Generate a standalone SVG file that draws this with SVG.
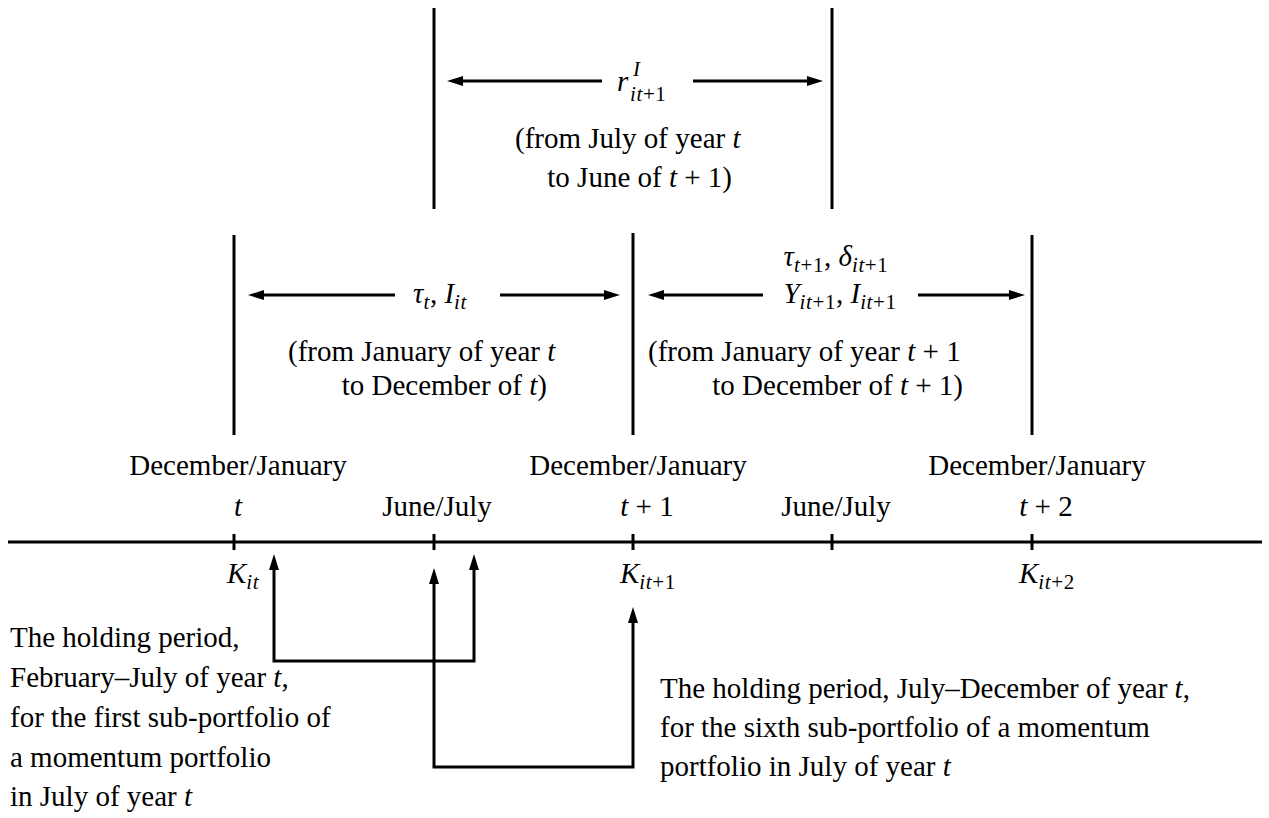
<svg xmlns="http://www.w3.org/2000/svg" width="1269" height="818" viewBox="0 0 1269 818">
<style>
text{font-family:"Liberation Serif","Times New Roman",serif;font-size:29px;fill:#000}
.i{font-style:italic}
.s{font-size:21px;letter-spacing:0.6px}
.ln{stroke:#000;stroke-width:3;fill:none}
.ar{stroke:#000;stroke-width:3;fill:none;marker-end:url(#ah)}
.br{stroke:#000;stroke-width:3;fill:none;stroke-linejoin:miter;marker-start:url(#ah);marker-end:url(#ah)}
</style>
<defs>
<marker id="ah" viewBox="0 0 16 10" markerWidth="16" markerHeight="10" refX="6" refY="5" orient="auto-start-reverse" markerUnits="userSpaceOnUse">
<path d="M0,0 L16,5 L0,10 Z" fill="#000"/>
</marker>
</defs>
<rect width="1269" height="818" fill="#fff"/>

<g id="axis">
<line class="ln" x1="8" y1="542" x2="1262" y2="542"/>
<line class="ln" x1="234" y1="534" x2="234" y2="550"/>
<line class="ln" x1="434" y1="534" x2="434" y2="550"/>
<line class="ln" x1="633" y1="534" x2="633" y2="550"/>
<line class="ln" x1="832" y1="534" x2="832" y2="550"/>
<line class="ln" x1="1032" y1="534" x2="1032" y2="550"/>
</g>

<g id="bounds">
<line class="ln" x1="434" y1="8" x2="434" y2="209"/>
<line class="ln" x1="832" y1="8" x2="832" y2="209"/>
<line class="ln" x1="234" y1="235" x2="234" y2="435"/>
<line class="ln" x1="633" y1="233" x2="633" y2="435"/>
<line class="ln" x1="1032" y1="235" x2="1032" y2="435"/>
</g>

<g id="top-period">
<text x="617" y="91"><tspan class="i">r</tspan><tspan class="i s" x="633" y="76">I</tspan><tspan class="s" x="630" y="101"><tspan class="i">it</tspan>+1</tspan></text>
<text x="515" y="148">(from July of year <tspan class="i">t</tspan></text>
<text x="732" y="187" text-anchor="end">to June of <tspan class="i">t</tspan> + 1)</text>
</g>

<g id="period-t">
<text x="440" y="303" text-anchor="middle"><tspan class="i">τ</tspan><tspan class="i s" dy="6">t</tspan><tspan dy="-6">, </tspan><tspan class="i">I</tspan><tspan class="i s" dy="6">it</tspan></text>
<text x="288" y="361">(from January of year <tspan class="i">t</tspan></text>
<text x="547" y="395" text-anchor="end">to December of <tspan class="i">t</tspan>)</text>
</g>

<g id="period-t1">
<text x="836" y="266" text-anchor="middle"><tspan class="i">τ</tspan><tspan class="s" dy="6"><tspan class="i">t</tspan>+1</tspan><tspan dy="-6">, </tspan><tspan class="i">δ</tspan><tspan class="s" dy="6"><tspan class="i">it</tspan>+1</tspan></text>
<text x="840" y="303" text-anchor="middle"><tspan class="i">Y</tspan><tspan class="s" dy="6"><tspan class="i">it</tspan>+1</tspan><tspan dy="-6">, </tspan><tspan class="i">I</tspan><tspan class="s" dy="6"><tspan class="i">it</tspan>+1</tspan></text>
<text x="648" y="361">(from January of year <tspan class="i">t</tspan> + 1</text>
<text x="963" y="395" text-anchor="end">to December of <tspan class="i">t</tspan> + 1)</text>
</g>

<g id="tick-labels">
<text x="238" y="475" text-anchor="middle">December/January</text>
<text x="238" y="516" text-anchor="middle" class="i">t</text>
<text x="437" y="516" text-anchor="middle">June/July</text>
<text x="638" y="475" text-anchor="middle">December/January</text>
<text x="647" y="516" text-anchor="middle"><tspan class="i">t</tspan> + 1</text>
<text x="836" y="516" text-anchor="middle">June/July</text>
<text x="1037" y="475" text-anchor="middle">December/January</text>
<text x="1046" y="516" text-anchor="middle"><tspan class="i">t</tspan> + 2</text>
</g>

<g id="k-labels">
<text x="227" y="583"><tspan class="i">K</tspan><tspan class="i s" dy="6">it</tspan></text>
<text x="620" y="583"><tspan class="i">K</tspan><tspan class="s" dy="6"><tspan class="i">it</tspan>+1</tspan></text>
<text x="1019" y="583"><tspan class="i">K</tspan><tspan class="s" dy="6"><tspan class="i">it</tspan>+2</tspan></text>
</g>

<g id="connectors">
<line class="ar" x1="602" y1="81" x2="457" y2="81"/>
<line class="ar" x1="693" y1="81" x2="813" y2="81"/>
<line class="ar" x1="395" y1="295" x2="258" y2="295"/>
<line class="ar" x1="500" y1="295" x2="610" y2="295"/>
<line class="ar" x1="763" y1="295" x2="658" y2="295"/>
<line class="ar" x1="918" y1="295" x2="1015" y2="295"/>
<path class="br" d="M274,564 V661 H474 V564"/>
<path class="br" d="M434,578 V767 H633 V617"/>
</g>

<g id="note-first">
<text x="10" y="647">The holding period,</text>
<text x="10" y="687">February–July of year <tspan class="i">t</tspan>,</text>
<text x="10" y="727">for the first sub-portfolio of</text>
<text x="10" y="767">a momentum portfolio</text>
<text x="10" y="806">in July of year <tspan class="i">t</tspan></text>
</g>

<g id="note-sixth">
<text x="660" y="698">The holding period, July–December of year <tspan class="i">t</tspan>,</text>
<text x="660" y="737">for the sixth sub-portfolio of a momentum</text>
<text x="660" y="776">portfolio in July of year <tspan class="i">t</tspan></text>
</g>
</svg>
